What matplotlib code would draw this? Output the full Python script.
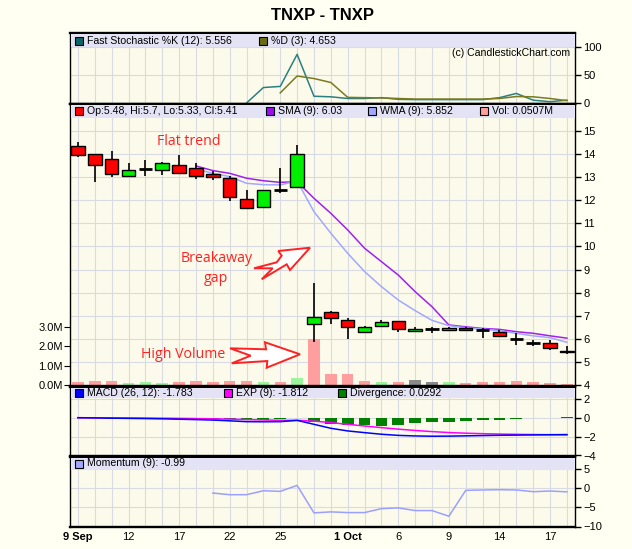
import numpy as np
import matplotlib
matplotlib.use('Agg')
import matplotlib.pyplot as plt
from matplotlib.patches import Rectangle, Polygon
import matplotlib.transforms as mtransforms

plt.rcParams['font.family'] = ['Liberation Sans', 'DejaVu Sans']

nan = np.nan

# x axis labels (trading day index -> label)
date_pos = [0, 3, 6, 9, 12, 16, 19, 22, 25, 28]
date_labels = ['9 Sep', '12', '17', '22', '25', '1 Oct', '6', '9', '14', '17']
bold_labels = ['9 Sep', '1 Oct']

opens = [14.35, 13.99, 13.77, 13.06, 13.36, 13.29, 13.51, 13.41, 13.13, 12.95,
         12.04, 11.72, 12.43, 12.56, 6.63, 7.15, 6.81, 6.28, 6.57, 6.76,
         6.32, 6.41, 6.38, 6.45, 6.38, 6.28, 5.99, 5.83, 5.80, 5.48]
highs = [14.51, 14.00, 14.13, 13.62, 13.74, 13.67, 13.96, 13.62, 13.26, 13.05,
         12.44, 12.44, 13.38, 14.39, 8.43, 7.22, 6.89, 6.55, 6.81, 6.76,
         6.50, 6.52, 6.52, 6.52, 6.45, 6.38, 6.24, 5.95, 5.95, 5.70]
lows = [13.88, 12.80, 13.02, 13.06, 13.05, 13.09, 13.16, 12.92, 12.87, 11.98,
        11.61, 11.69, 12.30, 12.56, 5.87, 6.64, 5.98, 6.26, 6.52, 6.31,
        6.31, 6.26, 6.34, 6.34, 6.02, 6.09, 5.73, 5.70, 5.52, 5.33]
closes = [13.96, 13.50, 13.12, 13.31, 13.36, 13.60, 13.19, 13.06, 12.99, 12.15,
          11.65, 12.44, 12.43, 14.00, 6.96, 6.89, 6.53, 6.51, 6.71, 6.41,
          6.41, 6.41, 6.45, 6.38, 6.37, 6.13, 5.99, 5.83, 5.59, 5.41]
volume_m = [0.14, 0.20, 0.20, 0.09, 0.15, 0.09, 0.15, 0.20, 0.15, 0.20,
            0.20, 0.15, 0.15, 0.38, 2.38, 0.55, 0.55, 0.20, 0.15, 0.15,
            0.26, 0.15, 0.15, 0.10, 0.15, 0.15, 0.20, 0.15, 0.10, 0.0507]

sma9 = [nan] * 7 + [13.48, 13.28, 13.16, 12.95, 12.84, 12.77, 12.80, 12.08, 11.43,
                    10.71, 9.92, 9.34, 8.76, 8.04, 7.39, 6.60, 6.52, 6.45, 6.41,
                    6.31, 6.24, 6.13, 6.03]
wma9 = [nan] * 7 + [13.35, 13.16, 13.02, 12.73, 12.67, 12.66, 12.83, 11.50, 10.57,
                    9.70, 8.91, 8.26, 7.68, 7.22, 6.80, 6.57, 6.48, 6.42, 6.35,
                    6.24, 6.13, 6.05, 5.85]

stoch_k = [nan] * 10 + [0.5, 28, 30, 87, 12.5, 11.5, 8.5, 8.5, 10, 7,
                        6.5, 6.5, 6.5, 6.5, 6.5, 10, 17.5, 5.5, 2.8, 5.556]
stoch_d = [nan] * 12 + [18.5, 48.5, 44, 37, 10.5, 10, 9.5, 8.5, 7.5, 7.5,
                        7.5, 7.5, 7.5, 8.5, 12, 11.5, 8.5, 4.653]

macd = [0.0, -0.02, -0.05, -0.07, -0.09, -0.12, -0.16, -0.20, -0.25, -0.33,
        -0.42, -0.43, -0.42, -0.28, -0.70, -1.12, -1.40, -1.58, -1.75, -1.87,
        -1.93, -1.96, -1.95, -1.92, -1.89, -1.86, -1.84, -1.82, -1.80, -1.783]
macd_signal = [0.0, -0.01, -0.02, -0.03, -0.04, -0.05, -0.07, -0.09, -0.12, -0.15,
               -0.20, -0.24, -0.28, -0.28, -0.36, -0.52, -0.70, -0.88, -1.05, -1.21,
               -1.35, -1.47, -1.57, -1.64, -1.69, -1.73, -1.76, -1.78, -1.80, -1.812]
divergence = [0.0, 0.0, -0.12, -0.13, -0.14, -0.15, -0.15, -0.16, -0.16, -0.18,
              -0.20, -0.20, -0.15, 0.0, -0.42, -0.63, -0.75, -0.77, -0.84, -0.72,
              -0.60, -0.50, -0.42, -0.36, -0.25, -0.20, -0.18, -0.03, 0.0, 0.0292]

momentum = [nan] * 8 + [-1.3, -1.73, -1.73, -0.7, -0.87, 0.68, -6.46, -6.2, -6.38, -6.38,
                        -5.35, -5.17, -5.86, -5.86, -7.33, -0.6, -0.5, -0.43, -0.5, -0.95,
                        -0.78, -0.99]

W, H = 632, 549
BG = '#fffff2'
PANEL = '#fcfaea'
BAND = '#e3e3f5'
GRID = '#d8dbe4'

fig = plt.figure(figsize=(W / 100, H / 100), dpi=100, facecolor=BG)


def px(x, y):
    return (x / W, 1 - y / H)


def box(top, bottom):
    return [70 / W, 1 - bottom / H, (575 - 70) / W, (bottom - top) / H]


x = np.arange(len(closes))
ax_st = fig.add_axes(box(33, 103.5))
ax_pr = fig.add_axes(box(104, 386))
ax_md = fig.add_axes(box(387, 455.5))
ax_mo = fig.add_axes(box(456.5, 526.5))
axes = [ax_st, ax_pr, ax_md, ax_mo]

for ax in axes:
    ax.set_facecolor(PANEL)
    ax.set_xlim(-0.47, 29.48)
    ax.set_xticks(x)
    ax.set_xticklabels([''] * len(x))
    ax.tick_params(axis='x', length=0)
    ax.yaxis.tick_right()
    ax.tick_params(axis='y', length=4, width=1, labelsize=8, pad=2, direction='out')
    ax.grid(True, color=GRID, lw=0.8, zorder=0)
    ax.set_axisbelow(True)
    for s in ['top', 'bottom']:
        ax.spines[s].set_linewidth(1.7)
    for s in ['left', 'right']:
        ax.spines[s].set_linewidth(1.0)

# stochastic
ax_st.set_ylim(-0.4, 125)
ax_st.set_yticks([0, 50, 100])
ax_st.plot(x, stoch_k, color='#2a8080', lw=1.1, zorder=3)
ax_st.plot(x, stoch_d, color='#7a7a1e', lw=1.1, zorder=3)

# price + volume
ax_pr.set_ylim(3.96, 16.16)
ax_pr.set_yticks(range(4, 16))
vol_per_price = 19.3 / 23.1
vol_trans = mtransforms.Affine2D().scale(1, vol_per_price).translate(0, 4.0) + ax_pr.transData
vol_colors = []
for i in range(len(closes)):
    prev = closes[i - 1] if i > 0 else closes[i] + 1
    if closes[i] > prev:
        vol_colors.append('#9cf59c')
    elif closes[i] < prev:
        vol_colors.append('#ff9e9e')
    else:
        vol_colors.append('#8a8a8a')
ax_pr.bar(x, volume_m, width=0.68, color=vol_colors, transform=vol_trans, zorder=1)

sec = ax_pr.secondary_yaxis('left', functions=(lambda p: (p - 4.0) / vol_per_price,
                                               lambda v: v * vol_per_price + 4.0))
sec.set_yticks([0, 1, 2, 3])
sec.set_yticklabels(['0.0M', '1.0M', '2.0M', '3.0M'])
sec.tick_params(length=4, labelsize=8, pad=1)
sec.spines['left'].set_visible(False)

ax_pr.plot(x, sma9, color='#a020f0', lw=1.1, zorder=2)
ax_pr.plot(x, wma9, color='#a0a8ff', lw=1.1, zorder=2)

o = np.array(opens)
c = np.array(closes)
body_bottom = np.minimum(o, c)
body_h = np.abs(c - o)
ax_pr.vlines(x, lows, highs, color='black', lw=1.2, zorder=3)
doji = body_h < 0.02
body_colors = ['#00ee00' if cc >= oo else '#ff0000' for oo, cc in zip(opens, closes)]
ax_pr.bar(x[~doji], body_h[~doji], bottom=body_bottom[~doji], width=0.8,
          color=[body_colors[i] for i in x[~doji]], edgecolor='black', lw=1, zorder=4)
ax_pr.hlines(c[doji], x[doji] - 0.4, x[doji] + 0.4, color='black', lw=2, zorder=4)

# MACD
ax_md.set_ylim(-4, 3.25)
ax_md.set_yticks([-4, -2, 0, 2])
ax_md.bar(x, divergence, width=0.7, color='#008000', zorder=2)
ax_md.plot(x, macd_signal, color='#ff00ff', lw=1.1, zorder=3)
ax_md.plot(x, macd, color='#0000ff', lw=1.1, zorder=3)

# Momentum
ax_mo.set_ylim(-10, 8.2)
ax_mo.set_yticks([-10, -5, 0, 5])
ax_mo.plot(x, momentum, color='#9ba0ff', lw=1.1, zorder=3)
ax_mo.set_xticks(x)
lbl = [''] * len(x)
for p, t in zip(date_pos, date_labels):
    lbl[p] = t
ax_mo.set_xticklabels(lbl, fontsize=8)
for t in ax_mo.get_xticklabels():
    if t.get_text() in bold_labels:
        t.set_fontweight('bold')
ax_mo.tick_params(axis='x', pad=4)


# header bands with legend squares
def header(top, bottom, items):
    fig.add_artist(Rectangle(px(70.5, bottom), (574.5 - 70.5) / W, (bottom - top) / H,
                             transform=fig.transFigure, facecolor=BAND, edgecolor='none', zorder=5))
    yc = (top + bottom) / 2
    for xp, col, text in items:
        fig.add_artist(Rectangle(px(xp, yc + 4), 8 / W, 8 / H, transform=fig.transFigure,
                                 facecolor=col, edgecolor='black', lw=0.8, zorder=6))
        fig.text(*px(xp + 12, yc), text, fontsize=7.6, va='center', ha='left', zorder=7)


header(34, 47, [(75, '#0b6666', 'Fast Stochastic %K (12): 5.556'),
                (259, '#6b6b10', '%D (3): 4.653')])
header(105, 117.5, [(75, '#ff0000', 'Op:5.48, Hi:5.7, Lo:5.33, Cl:5.41'),
                    (266, '#9a10f0', 'SMA (9): 6.03'),
                    (368, '#a0a8ff', 'WMA (9): 5.852'),
                    (480, '#ff9e9e', 'Vol: 0.0507M')])
header(388, 398, [(75, '#0000ff', 'MACD (26, 12): -1.783'),
                  (224, '#ff00ff', 'EXP (9): -1.812'),
                  (338, '#008000', 'Divergence: 0.0292')])
header(457.5, 469.5, [(75, '#a0a8ff', 'Momentum (9): -0.99')])

fig.text(*px(570, 53), '(c) CandlestickChart.com', fontsize=7.6, ha='right', va='center', zorder=7)
fig.text(*px(322, 15), 'TNXP - TNXP', fontsize=12, fontweight='bold', ha='center', va='center')

# annotations
red = '#ff2222'
ann_font = ['Open Sans', 'DejaVu Sans']
fig.text(*px(189, 141), 'Flat trend', color=red, fontsize=10.2, ha='center', va='center', family=ann_font)
fig.text(*px(217, 259), 'Breakaway', color=red, fontsize=10.2, ha='center', va='center', family=ann_font)
fig.text(*px(216, 278), 'gap', color=red, fontsize=10.2, ha='center', va='center', family=ann_font)
fig.text(*px(183, 354), 'High Volume', color=red, fontsize=10.2, ha='center', va='center', family=ann_font)

arrow_gap = [(254, 268.3), (276.7, 262.3), (281.7, 255.7), (278.3, 251), (310, 247.7),
             (290, 270), (286.7, 264.3), (261.7, 279.3), (272.7, 268.3)]
arrow_vol = [(230, 348.3), (266, 349.3), (265, 342.3), (300, 354.3), (266.7, 367.7),
             (267.3, 361), (231.7, 363.3), (250.7, 355.7)]
for shape in [arrow_gap, arrow_vol]:
    fig.add_artist(Polygon([px(a, b) for a, b in shape], closed=True, transform=fig.transFigure,
                           facecolor='white', edgecolor=red, lw=1.4, zorder=8))

fig.savefig('out.png', dpi=100, facecolor=BG)
